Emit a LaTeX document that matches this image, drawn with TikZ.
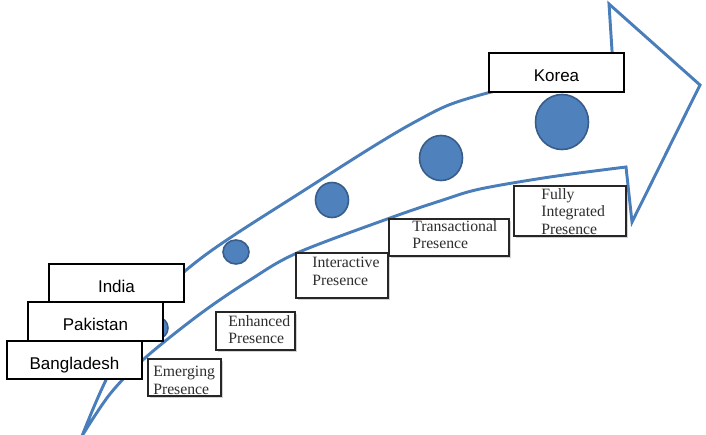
\documentclass[tikz,border=0pt]{standalone}
\usepackage{fontspec}
\newfontfamily\countryfont{Liberation Sans}
\newfontfamily\stagefont{Liberation Serif}
\usetikzlibrary{shadows,shapes.geometric}
\definecolor{arrowblue}{HTML}{4A7EBB}
\definecolor{dotfill}{HTML}{4F81BD}
\definecolor{dotedge}{HTML}{385D8A}
\definecolor{stagetextcol}{HTML}{2E2E2E}
\def\pxu{0.75pt}
\begin{document}
\begin{tikzpicture}[x=0.75pt,y=-0.75pt,
  arrowline/.style={draw=arrowblue, line width=2.2pt, line join=miter},
  dotnode/.style={ellipse, fill=dotfill, draw=dotedge, line width=1.2pt, inner sep=0pt},
  countrybox/.style={draw=black, line width=1.4pt, fill=white, minimum width=135*\pxu, minimum height=38.5*\pxu, inner sep=0pt, text height=13.5pt, text depth=0pt, font=\countryfont\fontsize{12.75}{15}\selectfont},
  stagebox/.style={draw=black!85, line width=1.4pt, fill=white, inner sep=0pt, anchor=north west, drop shadow={shadow xshift=1.2pt, shadow yshift=-1.5pt, opacity=0.35}},
  stagetext/.style={anchor=north west, inner sep=0pt, align=left, text=stagetextcol, font=\stagefont\fontsize{11.8}{13.1}\selectfont}]
\useasboundingbox (0,0) rectangle (706,435);
% big curved arrow
\draw[arrowline] plot[smooth, tension=0.55] coordinates {(82,436) (110,394) (145,358) (200,314) (250,280) (297,253) (390,218) (443,200) (480,189) (550,177) (626,167)}
  -- (632,222) -- (700,85) -- (609,4) -- (613,66)
  -- plot[smooth, tension=0.6] coordinates {(613,66) (480,95) (413,123) (300,193) (200,259) (150,308) (110,372) (82,436)};
% dots
\node[dotnode, minimum width=20*\pxu, minimum height=21*\pxu] (d1) at (158,328) {};
\node[dotnode, minimum width=26*\pxu, minimum height=24*\pxu] (d2) at (236,252) {};
\node[dotnode, minimum width=33*\pxu, minimum height=35*\pxu] (d3) at (332,200) {};
\node[dotnode, minimum width=43*\pxu, minimum height=45*\pxu] (d4) at (441,158) {};
\node[dotnode, minimum width=53*\pxu, minimum height=55*\pxu] (d5) at (562,122) {};
% stage boxes
\node[stagebox, minimum width=73*\pxu, minimum height=37*\pxu] (emb) at (147,358) {};
\node[stagetext] (emt) at (153,366) {Emerging\\Presence};
\node[stagebox, minimum width=79*\pxu, minimum height=38*\pxu] (enb) at (215,311) {};
\node[stagetext] (ent) at (228,315) {Enhanced\\Presence};
\node[stagebox, minimum width=92*\pxu, minimum height=45*\pxu] (inb) at (295,252) {};
\node[stagetext] (int) at (312,257) {Interactive\\Presence};
\node[stagebox, minimum width=120*\pxu, minimum height=37*\pxu] (trb) at (388,218) {};
\node[stagetext] (trt) at (412,220) {Transactional\\Presence};
\node[stagebox, minimum width=112*\pxu, minimum height=50*\pxu] (fub) at (513,185) {};
\node[stagetext] (fut) at (541,188) {Fully\\Integrated\\Presence};
% country boxes
\node[countrybox] (india) at (116.5,283) {India};
\node[countrybox] (pakistan) at (95.5,321.5) {Pakistan};
\node[countrybox] (bangladesh) at (74.5,360) {Bangladesh};
\node[countrybox] (korea) at (556.5,72.5) {Korea};
\end{tikzpicture}
\end{document}
